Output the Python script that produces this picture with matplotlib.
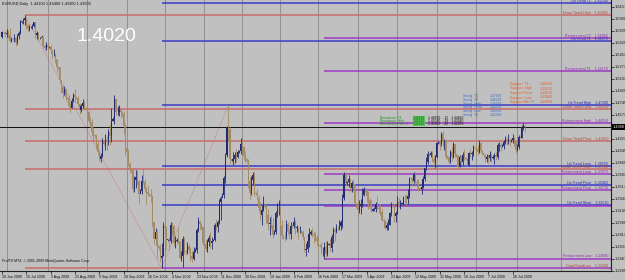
import numpy as np
import matplotlib
matplotlib.use("Agg")
import matplotlib.pyplot as plt
import matplotlib.transforms as mtransforms

plt.rcParams['font.family'] = ['Liberation Sans', 'DejaVu Sans']

# ---- daily EURUSD bars (open = previous close) ----
first_open = 1.5720
closes = [
    1.5790,
    1.5785, 1.5760, 1.5780, 1.5740, 1.5660, 1.5690,
    1.5685, 1.5700, 1.5640, 1.5730, 1.5770, 1.5940,
    1.5945, 1.5960, 1.5990, 1.5890, 1.5840, 1.5860,
    1.5865, 1.5880, 1.5930, 1.5740, 1.5770, 1.5700,
    1.5705, 1.5720, 1.5580, 1.5560, 1.5600, 1.5570,
    1.5575, 1.5520, 1.5460, 1.5470, 1.5390, 1.5280,
    1.5270, 1.5080, 1.4980, 1.4900, 1.4960, 1.4830,
    1.4825, 1.4700, 1.4680, 1.4780, 1.4860, 1.4830,
    1.4820, 1.4730, 1.4640, 1.4700, 1.4750, 1.4680,
    1.4670, 1.4620, 1.4490, 1.4470, 1.4320, 1.4280,
    1.4260, 1.4140, 1.4030, 1.3930, 1.3970, 1.4190,
    1.4150, 1.4210, 1.4190, 1.4330, 1.4260, 1.4490,
    1.4520, 1.4800, 1.4610, 1.4620, 1.4640, 1.4610,
    1.4580, 1.4410, 1.4090, 1.4030, 1.3850, 1.3780,
    1.3760, 1.3490, 1.3620, 1.3670, 1.3600, 1.3410,
    1.3460, 1.3610, 1.3590, 1.3480, 1.3450, 1.3420,
    1.3400, 1.3380, 1.3000, 1.2760, 1.2860, 1.2650,
    1.2620, 1.2480, 1.2500, 1.2940, 1.2910, 1.2740,
    1.2750, 1.2720, 1.2960, 1.2950, 1.2700, 1.2730,
    1.2740, 1.2720, 1.2480, 1.2500, 1.2750, 1.2580,
    1.2560, 1.2650, 1.2600, 1.2500, 1.2460, 1.2570,
    1.2590, 1.2880, 1.3020, 1.2980, 1.2930, 1.2700,
    1.2680, 1.2610, 1.2710, 1.2770, 1.2700, 1.2720,
    1.2740, 1.2960, 1.2930, 1.3010, 1.3300, 1.3350,
    1.3400, 1.3650, 1.3980, 1.4380, 1.4370, 1.3920,
    1.3900, 1.3920, 1.3990, 1.3960, 1.4030,
    1.4040, 1.4150, 1.4100, 1.3970, 1.3920,
    1.3900, 1.3600, 1.3430, 1.3620, 1.3690, 1.3430,
    1.3420, 1.3360, 1.3210, 1.3100, 1.3180, 1.3250,
    1.3230, 1.3110, 1.2980, 1.2980, 1.2960, 1.2820,
    1.2860, 1.3140, 1.3190, 1.3190, 1.2950, 1.2800,
    1.2790, 1.2780, 1.2970, 1.2850, 1.2830, 1.2950,
    1.2940, 1.3000, 1.2920, 1.2920, 1.2870, 1.2870,
    1.2860, 1.2780, 1.2600, 1.2610, 1.2720, 1.2830,
    1.2850, 1.2830, 1.2820, 1.2770, 1.2730, 1.2670,
    1.2650, 1.2580, 1.2580, 1.2640, 1.2530, 1.2660,
    1.2680, 1.2620, 1.2790, 1.2880, 1.2860, 1.2920,
    1.2910, 1.2950, 1.3010, 1.3360, 1.3690, 1.3580,
    1.3590, 1.3630, 1.3500, 1.3580, 1.3560, 1.3280,
    1.3250, 1.3180, 1.3240, 1.3260, 1.3400, 1.3480,
    1.3470, 1.3390, 1.3320, 1.3270, 1.3170, 1.3190,
    1.3200, 1.3270, 1.3210, 1.3200, 1.3150, 1.3030,
    1.3020, 1.2920, 1.2960, 1.2960, 1.3130, 1.3250,
    1.3240, 1.3090, 1.3140, 1.3290, 1.3240, 1.3270,
    1.3280, 1.3360, 1.3350, 1.3340, 1.3380, 1.3640,
    1.3630, 1.3610, 1.3700, 1.3590, 1.3580, 1.3500,
    1.3490, 1.3520, 1.3640, 1.3790, 1.3880, 1.4000,
    1.3990, 1.4010, 1.3920, 1.3880, 1.3960, 1.4160,
    1.4170, 1.4150, 1.4290, 1.4170, 1.4190, 1.3960,
    1.3950, 1.3880, 1.4030, 1.3960, 1.4140, 1.4000,
    1.3980, 1.3810, 1.3960, 1.3890, 1.3990, 1.3940,
    1.3930, 1.3840, 1.4010, 1.4000, 1.4020, 1.4100,
    1.4090, 1.4070, 1.4030, 1.4160, 1.4040, 1.4010,
    1.3980, 1.3930, 1.3950, 1.3940, 1.3990, 1.3940,
    1.3960, 1.3990, 1.3950, 1.4130, 1.4130, 1.4110,
    1.4120, 1.4170, 1.4220, 1.4190, 1.4210, 1.4190,
    1.4200, 1.4240, 1.4170, 1.4060, 1.4110, 1.4250,
    1.4240, 1.4400, 1.4410, 1.4390,
]
highs = [
    1.5800,
    1.5795, 1.5810, 1.5830, 1.5820, 1.5850, 1.5720,
    1.5700, 1.5760, 1.5720, 1.5760, 1.5810, 1.5960,
    1.5950, 1.5990, 1.6038, 1.5990, 1.5920, 1.5890,
    1.5870, 1.5910, 1.5940, 1.5940, 1.5800, 1.5790,
    1.5710, 1.5750, 1.5730, 1.5620, 1.5640, 1.5640,
    1.5590, 1.5600, 1.5530, 1.5540, 1.5480, 1.5400,
    1.5290, 1.5280, 1.5090, 1.5010, 1.5000, 1.4970,
    1.4840, 1.4860, 1.4750, 1.4820, 1.4900, 1.4960,
    1.4835, 1.4850, 1.4750, 1.4740, 1.4810, 1.4780,
    1.4690, 1.4720, 1.4650, 1.4560, 1.4510, 1.4400,
    1.4290, 1.4300, 1.4190, 1.4060, 1.4010, 1.4240,
    1.4200, 1.4290, 1.4270, 1.4360, 1.4440, 1.4680,
    1.4540, 1.4866, 1.4790, 1.4700, 1.4720, 1.4680,
    1.4620, 1.4630, 1.4450, 1.4180, 1.4080, 1.3880,
    1.3790, 1.3790, 1.3680, 1.3760, 1.3770, 1.3620,
    1.3480, 1.3690, 1.3800, 1.3640, 1.3520, 1.3550,
    1.3430, 1.3480, 1.3400, 1.3010, 1.2920, 1.2880,
    1.2660, 1.2680, 1.2700, 1.3000, 1.3080, 1.2940,
    1.2760, 1.2790, 1.3010, 1.3000, 1.2960, 1.2800,
    1.2770, 1.2930, 1.2730, 1.2580, 1.2800, 1.2780,
    1.2600, 1.2710, 1.2680, 1.2640, 1.2590, 1.2640,
    1.2620, 1.2920, 1.3070, 1.3030, 1.2990, 1.2940,
    1.2700, 1.2740, 1.2760, 1.2820, 1.2850, 1.2790,
    1.2760, 1.2990, 1.3050, 1.3030, 1.3340, 1.3380,
    1.3430, 1.3680, 1.4010, 1.4410, 1.4720, 1.4390,
    1.3940, 1.4030, 1.4030, 1.4070, 1.4060,
    1.4060, 1.4240, 1.4210, 1.4120, 1.4040,
    1.3940, 1.3920, 1.3670, 1.3680, 1.3740, 1.3740,
    1.3450, 1.3480, 1.3400, 1.3300, 1.3250, 1.3380,
    1.3260, 1.3250, 1.3190, 1.3080, 1.3100, 1.3060,
    1.2880, 1.3170, 1.3280, 1.3330, 1.3200, 1.3030,
    1.2820, 1.2850, 1.3040, 1.3010, 1.2900, 1.3000,
    1.2960, 1.3070, 1.3040, 1.2960, 1.2930, 1.2950,
    1.2880, 1.2880, 1.2790, 1.2700, 1.2760, 1.2920,
    1.2880, 1.2920, 1.2860, 1.2850, 1.2810, 1.2780,
    1.2680, 1.2710, 1.2640, 1.2710, 1.2720, 1.2720,
    1.2700, 1.2760, 1.2830, 1.2930, 1.2920, 1.2970,
    1.2940, 1.3030, 1.3030, 1.3410, 1.3740, 1.3720,
    1.3610, 1.3690, 1.3650, 1.3610, 1.3640, 1.3560,
    1.3280, 1.3320, 1.3320, 1.3340, 1.3500, 1.3510,
    1.3500, 1.3500, 1.3460, 1.3350, 1.3320, 1.3210,
    1.3220, 1.3300, 1.3390, 1.3260, 1.3270, 1.3190,
    1.3050, 1.3040, 1.3010, 1.3050, 1.3150, 1.3300,
    1.3270, 1.3260, 1.3170, 1.3380, 1.3360, 1.3320,
    1.3300, 1.3390, 1.3400, 1.3420, 1.3480, 1.3660,
    1.3660, 1.3660, 1.3740, 1.3730, 1.3640, 1.3630,
    1.3520, 1.3560, 1.3680, 1.3800, 1.3950, 1.4050,
    1.4020, 1.4050, 1.4040, 1.3990, 1.3990, 1.4180,
    1.4190, 1.4200, 1.4330, 1.4340, 1.4220, 1.4220,
    1.3980, 1.3970, 1.4060, 1.4100, 1.4180, 1.4150,
    1.4000, 1.3990, 1.3980, 1.3970, 1.4030, 1.4070,
    1.3950, 1.3940, 1.4030, 1.4080, 1.4040, 1.4130,
    1.4110, 1.4140, 1.4130, 1.4200, 1.4180, 1.4060,
    1.4000, 1.4000, 1.4000, 1.4000, 1.4040, 1.4010,
    1.3980, 1.4020, 1.4030, 1.4160, 1.4170, 1.4160,
    1.4140, 1.4200, 1.4260, 1.4240, 1.4300, 1.4230,
    1.4220, 1.4290, 1.4250, 1.4190, 1.4140, 1.4280,
    1.4260, 1.4430, 1.4450, 1.4440,
]
lows = [
    1.5700,
    1.5775, 1.5720, 1.5720, 1.5700, 1.5640, 1.5640,
    1.5670, 1.5640, 1.5590, 1.5620, 1.5680, 1.5760,
    1.5925, 1.5900, 1.5890, 1.5830, 1.5800, 1.5810,
    1.5850, 1.5830, 1.5860, 1.5700, 1.5680, 1.5660,
    1.5690, 1.5660, 1.5550, 1.5520, 1.5530, 1.5500,
    1.5560, 1.5460, 1.5400, 1.5430, 1.5330, 1.5200,
    1.5250, 1.5040, 1.4900, 1.4820, 1.4860, 1.4780,
    1.4810, 1.4660, 1.4600, 1.4670, 1.4760, 1.4750,
    1.4810, 1.4700, 1.4590, 1.4610, 1.4680, 1.4640,
    1.4650, 1.4580, 1.4460, 1.4400, 1.4270, 1.4180,
    1.4240, 1.4070, 1.3990, 1.3900, 1.3880, 1.3950,
    1.4130, 1.4060, 1.4060, 1.4130, 1.4130, 1.4180,
    1.4490, 1.4440, 1.4570, 1.4570, 1.4560, 1.4530,
    1.4560, 1.4300, 1.3990, 1.3980, 1.3820, 1.3720,
    1.3740, 1.3440, 1.3440, 1.3500, 1.3550, 1.3270,
    1.3430, 1.3420, 1.3560, 1.3450, 1.3270, 1.3380,
    1.3380, 1.3300, 1.2950, 1.2680, 1.2720, 1.2480,
    1.2590, 1.2420, 1.2330, 1.2500, 1.2820, 1.2600,
    1.2720, 1.2600, 1.2700, 1.2820, 1.2650, 1.2620,
    1.2710, 1.2680, 1.2460, 1.2430, 1.2340, 1.2540,
    1.2540, 1.2540, 1.2550, 1.2430, 1.2420, 1.2450,
    1.2570, 1.2550, 1.2850, 1.2880, 1.2900, 1.2660,
    1.2660, 1.2580, 1.2570, 1.2650, 1.2620, 1.2610,
    1.2720, 1.2720, 1.2880, 1.2860, 1.2980, 1.3040,
    1.3380, 1.3350, 1.3580, 1.3960, 1.4190, 1.3860,
    1.3880, 1.3840, 1.3870, 1.3890, 1.3940,
    1.4010, 1.4000, 1.4000, 1.3910, 1.3880,
    1.3870, 1.3500, 1.3340, 1.3400, 1.3550, 1.3380,
    1.3400, 1.3330, 1.3150, 1.3040, 1.2960, 1.3160,
    1.3210, 1.2990, 1.2880, 1.2820, 1.2900, 1.2770,
    1.2830, 1.2830, 1.3080, 1.3110, 1.2920, 1.2750,
    1.2760, 1.2730, 1.2760, 1.2830, 1.2750, 1.2760,
    1.2920, 1.2920, 1.2830, 1.2850, 1.2760, 1.2840,
    1.2840, 1.2740, 1.2560, 1.2510, 1.2570, 1.2630,
    1.2820, 1.2780, 1.2700, 1.2720, 1.2650, 1.2610,
    1.2630, 1.2530, 1.2500, 1.2460, 1.2490, 1.2500,
    1.2660, 1.2580, 1.2570, 1.2700, 1.2720, 1.2840,
    1.2890, 1.2890, 1.2880, 1.2920, 1.3330, 1.3530,
    1.3560, 1.3520, 1.3440, 1.3440, 1.3480, 1.3260,
    1.3210, 1.3110, 1.3130, 1.3120, 1.3220, 1.3390,
    1.3450, 1.3300, 1.3200, 1.3190, 1.3150, 1.3160,
    1.3170, 1.3150, 1.3190, 1.3140, 1.3100, 1.3020,
    1.2990, 1.2900, 1.2890, 1.2890, 1.2960, 1.3090,
    1.3220, 1.3000, 1.3000, 1.3120, 1.3220, 1.3190,
    1.3260, 1.3250, 1.3280, 1.3250, 1.3270, 1.3360,
    1.3610, 1.3530, 1.3580, 1.3540, 1.3510, 1.3460,
    1.3470, 1.3420, 1.3500, 1.3600, 1.3770, 1.3850,
    1.3970, 1.3960, 1.3880, 1.3830, 1.3800, 1.3940,
    1.4140, 1.4060, 1.4120, 1.4120, 1.4060, 1.3930,
    1.3920, 1.3850, 1.3870, 1.3900, 1.3940, 1.3960,
    1.3960, 1.3780, 1.3810, 1.3840, 1.3840, 1.3910,
    1.3910, 1.3830, 1.3830, 1.3950, 1.3910, 1.3970,
    1.4070, 1.4000, 1.3990, 1.4020, 1.4010, 1.3980,
    1.3960, 1.3880, 1.3880, 1.3870, 1.3900, 1.3890,
    1.3930, 1.3850, 1.3910, 1.3930, 1.4040, 1.4050,
    1.4100, 1.4080, 1.4140, 1.4130, 1.4140, 1.4120,
    1.4180, 1.4160, 1.4120, 1.4020, 1.4040, 1.4070,
    1.4230, 1.4240, 1.4350, 1.4330,
]

date_labels = ['18 Jun 2008', '15 Jul 2008', '3 Aug 2008', '21 Aug 2008', '9 Sep 2008',
               '28 Sep 2008', '16 Oct 2008', '4 Nov 2008', '23 Nov 2008', '11 Dec 2008',
               '30 Dec 2008', '19 Jan 2009', '8 Feb 2009', '26 Feb 2009', '17 Mar 2009',
               '5 Apr 2009', '23 Apr 2009', '12 May 2009', '31 May 2009', '18 Jun 2009',
               '7 Jul 2009', '26 Jul 2009']
date_tick_bars = list(range(0, 352, 16))
grid_bars = [3, 30, 56, 82, 107, 133, 158, 183, 208, 234, 260, 286, 312, 339, 368]
price_ticks = [1.2285, 1.2461, 1.2637, 1.2813, 1.2989, 1.3165, 1.3341, 1.3517, 1.3693,
               1.3869, 1.4045, 1.4221, 1.4397, 1.4573, 1.4749, 1.4925, 1.5101, 1.5277,
               1.5453, 1.5629, 1.5805, 1.5981, 1.6157]

# level lines: name, price, group ('up' from low bar, 'down' from high bar, 'ret' from march low)
level_names = ['Up Trend T2', 'Down Trend High', 'Retracement T2', 'Up Trend T1',
               'Retracement T1', 'Up Trend High', 'Down Trend Long', 'Retracement High',
               'Down Trend Pivot', 'Up Trend Long', 'Down Trend Short', 'Retracement Long',
               'Up Trend Pivot', 'Retracement Pivot', 'Up Trend Short', 'Retracement Short',
               'Retracement Low', 'Orgn/TrendLow']
level_prices = [1.6214, 1.6038, 1.5695, 1.5657, 1.5217, 1.4720, 1.4661, 1.4455, 1.4185,
                1.3825, 1.3780, 1.3707, 1.3546, 1.3473, 1.3251, 1.3238, 1.2466, 1.2330]
level_groups = ['up', 'down', 'ret', 'up', 'ret', 'up', 'down', 'ret', 'down', 'up', 'down',
                'ret', 'up', 'ret', 'up', 'ret', 'ret', 'origin']

swing_names = ['Swing  T1', 'Swing  T2', 'Swing  High', 'Swing  Pivot', 'Swing  Low', 'Swing  T1']
swing_values = ['1.47500', '1.46220', '1.45290', '1.44320', '1.43290', '1.42310']
support_names = ['Support  T1', 'Support  High', 'Support Pivot', 'Support  Low', 'Support Min T1']
support_values = ['1.46950', '1.45210', '1.44530', '1.43860', '1.42690']
resist_names = ['Resistance  T1', 'Resistance  High', 'Resistance/Pivot T2']
resist_values = ['1.44820', '1.43540', '1.42160']

BG = '#c0c0c0'
BULL = '#1f2a72'
BEAR = '#a48a62'
COL = {'up': '#3c3cc8', 'down': '#c86a6a', 'ret': '#9c3cc0', 'origin': '#9c3cc0'}
TXT = {'up': '#2828b4', 'down': '#b04a3a', 'ret': '#8c2cb0', 'origin': '#b04a3a'}

o = np.r_[first_open, closes[:-1]]
c = np.array(closes)
h = np.array(highs)
l = np.array(lows)
idx = np.arange(len(c))
assert len(c) == len(h) == len(l)

fig = plt.figure(figsize=(6.25, 2.8), dpi=100, facecolor=BG)
ax = fig.add_axes([0, 9 / 280, 611 / 625, 271 / 280])
ax.set_facecolor(BG)
x_max = 400.66
ax.set_xlim(-1.32, x_max)
ax.set_ylim(1.2285, 1.6258)

# vertical dotted grid
for gb in grid_bars:
    ax.axvline(gb, color='#505050', lw=0.6, ls=(0, (1.2, 1.2)), zorder=1)

# level lines
hi_bar = int(np.argmax(h))
lo_bar = int(np.argmin(l))
ret_bar = 200 + int(np.argmin(l[200:240]))
start_of = {'up': lo_bar, 'down': hi_bar, 'ret': ret_bar, 'origin': lo_bar}
btr = mtransforms.blended_transform_factory(ax.transAxes, ax.transData)
for name, price, grp in zip(level_names, level_prices, level_groups):
    ax.hlines(price, start_of[grp], x_max, color=COL[grp], lw=1.1, zorder=2)
    if grp == 'origin':
        ax.hlines(price, hi_bar, lo_bar, color=COL['down'], lw=1.1, zorder=2)
    if name == 'Retracement Short':
        continue
    ax.text(0.995, price + 0.0004, f'{name}    {price:.5f}', transform=btr,
            ha='right', va='bottom', fontsize=2.6, color=TXT[grp], zorder=5)

# dotted swing lines
ax.plot([hi_bar, lo_bar], [h[hi_bar], l[lo_bar]], color='#c86a6a', lw=0.6, ls=(0, (1, 1.5)), zorder=2)
dec_bar = 140 + int(np.argmax(h[140:160]))
ax.plot([lo_bar, dec_bar], [l[lo_bar], h[dec_bar]], color='#c86a6a', lw=0.6, ls=(0, (1, 1.5)), zorder=2)

# candles
up = c >= o
cols = np.where(up, BULL, BEAR)
ax.vlines(idx, l, h, colors=cols, lw=0.6, zorder=3)
body_lo = np.minimum(o, c)
body_h = np.maximum(np.abs(c - o), 0.0004)
ax.bar(idx, body_h, bottom=body_lo, width=0.75, color=cols, lw=0, zorder=4)

# current price line
ax.axhline(c[-1], color='#101010', lw=0.7, zorder=2)

# axes frame
for s in ['left', 'top']:
    ax.spines[s].set_visible(False)
for s in ['right', 'bottom']:
    ax.spines[s].set_color('#202020')
    ax.spines[s].set_linewidth(0.8)
ax.yaxis.tick_right()
ax.set_yticks(price_ticks)
ax.set_yticklabels([f'{p:.4f}' for p in price_ticks])
ax.tick_params(axis='y', length=2, width=0.5, pad=1, labelsize=2.8, colors='#101010')
ax.set_xticks(date_tick_bars)
ax.set_xticklabels(date_labels, ha='left')
ax.tick_params(axis='x', length=2, width=0.5, pad=1, labelsize=2.6, colors='#101010')

# current price box on the axis
ax.text(1.003, c[-1], f'{c[-1]:.4f}', transform=btr, ha='left', va='center', fontsize=2.8,
        color='white', bbox=dict(boxstyle='square,pad=0.25', fc='black', ec='none'),
        clip_on=False, zorder=6)

# header and footer texts
ax.text(0.004, 0.993, f'EURUSD,Daily  {o[-1]:.5f} {h[-1]:.5f} {l[-1]:.5f} {c[-1]:.5f}',
        transform=ax.transAxes, ha='left', va='top', fontsize=2.8, color='#101010')
ax.text(0.004, 0.03, 'Pro/FX MT4, \u00a9 2001-2009 MetaQuotes Software Corp.',
        transform=ax.transAxes, ha='left', va='bottom', fontsize=2.6, color='#101010')
ax.text(0.125, 0.835, '1.4020', transform=ax.transAxes, ha='left', va='bottom',
        fontsize=14, color='white')

# indicator comment blocks
for k, (n, v) in enumerate(zip(swing_names, swing_values)):
    yy = 1 - (96 + k * 3.8) / 271
    ax.text(463 / 611, yy, n, transform=ax.transAxes, fontsize=2.4, color='#3a6cc0', va='center')
    ax.text(490 / 611, yy, v, transform=ax.transAxes, fontsize=2.4, color='#3a6cc0', va='center')
for k, (n, v) in enumerate(zip(support_names, support_values)):
    yy = 1 - (84 + k * 4.5) / 271
    ax.text(510 / 611, yy, n, transform=ax.transAxes, fontsize=2.6, color='#e0602c', va='center')
    ax.text(540 / 611, yy, v, transform=ax.transAxes, fontsize=2.6, color='#e0602c', va='center')
for k, (n, v) in enumerate(zip(resist_names, resist_values)):
    yy = 1 - (118 + k * 3.2) / 271
    ax.text(380 / 611, yy, n, transform=ax.transAxes, fontsize=2.3, color='#1a8c1a', va='center')
    ax.text(413 / 611, yy, v, transform=ax.transAxes, fontsize=2.4, color='#0e5e0e', va='center',
            bbox=dict(boxstyle='square,pad=0.02', fc='#5cc85c', ec='none'))
    ax.text(428 / 611, yy, v + '   -' + str(12 + 7 * k) + '   ' + v, transform=ax.transAxes,
            fontsize=2.4, color='#101010', va='center')

fig.savefig('out.png', dpi=100, facecolor=BG)
